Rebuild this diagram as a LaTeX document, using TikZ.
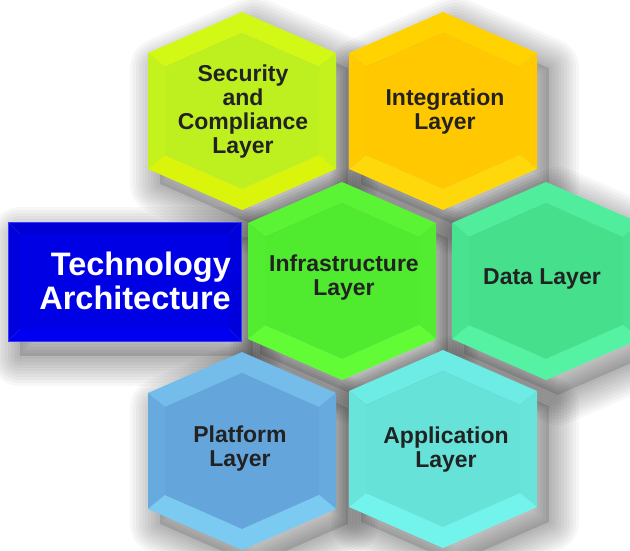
\documentclass[tikz,border=0pt]{standalone}
\usepackage{fontspec}
\setmainfont{Liberation Sans}
\definecolor{txt}{HTML}{222222}
\definecolor{secM}{HTML}{BEF020}\definecolor{secT}{HTML}{D2F816}\definecolor{secS}{HTML}{C4F21C}\definecolor{secB}{HTML}{DAF40C}
\definecolor{intM}{HTML}{FFC800}\definecolor{intT}{HTML}{FFD200}\definecolor{intS}{HTML}{FFCB00}\definecolor{intB}{HTML}{FFD80C}
\definecolor{infM}{HTML}{50EA2E}\definecolor{infT}{HTML}{5AF434}\definecolor{infS}{HTML}{52EC30}\definecolor{infB}{HTML}{62FC36}
\definecolor{datM}{HTML}{46E08C}\definecolor{datT}{HTML}{50EE9C}\definecolor{datS}{HTML}{48E290}\definecolor{datB}{HTML}{54F2A2}
\definecolor{plaM}{HTML}{64A6DC}\definecolor{plaT}{HTML}{74BCEA}\definecolor{plaS}{HTML}{66AADE}\definecolor{plaB}{HTML}{7ACAF2}
\definecolor{appM}{HTML}{66E2D8}\definecolor{appT}{HTML}{6CECE4}\definecolor{appS}{HTML}{68E4DA}\definecolor{appB}{HTML}{72F4EC}
\definecolor{bluM}{HTML}{0000E4}\definecolor{bluT}{HTML}{0000D4}\definecolor{bluS}{HTML}{0000DC}\definecolor{bluB}{HTML}{0000F0}\definecolor{bluE}{HTML}{3A3AFF}
\tikzset{
  shadowlayer/.style={draw=black, draw opacity=0.03, line join=round},
  shadowcore/.style={fill=black, fill opacity=0.12},
  lbl/.style={font=\fontsize{23}{24}\selectfont\bfseries,text=txt,align=center,inner sep=0pt},
  title/.style={font=\fontsize{32.5}{34}\selectfont\bfseries,text=white,align=right,inner sep=0pt}
}
\newcommand\hexpathat[2]{(#1,#2) ++(0,-99) -- ++(94,41) -- ++(0,116) -- ++(-94,41) -- ++(-94,-41) -- ++(0,-116) -- cycle}
\newcommand\hexshadow[2]{%
  \path[shadowcore, shift={(12,15)}] \hexpathat{#1}{#2};
  \foreach \w in {60,54,...,6}{%
    \path[shadowlayer, line width=\w pt, shift={(12,15)}] \hexpathat{#1}{#2};}}
\newcommand\hexcell[6]{%
  \begin{scope}[shift={(#1,#2)}]
    \fill[#4] (-94,-58) -- (0,-99) -- (94,-58) -- (77,-44) -- (0,-78) -- (-77,-44) -- cycle;
    \fill[#5] (94,-58) -- (94,58) -- (77,44) -- (77,-44) -- cycle;
    \fill[#5] (-94,-58) -- (-94,58) -- (-77,44) -- (-77,-44) -- cycle;
    \fill[#6] (-94,58) -- (0,99) -- (94,58) -- (77,44) -- (0,78) -- (-77,44) -- cycle;
    \fill[#3] (0,-78) -- (77,-44) -- (77,44) -- (0,78) -- (-77,44) -- (-77,-44) -- cycle;
  \end{scope}}
\begin{document}
\begin{tikzpicture}[x=1pt,y=-1pt]
\useasboundingbox (0,0) rectangle (630,550);
\clip (0,0) rectangle (630,550);
\fill[white] (0,0) rectangle (630,550);
% shadows
\path[shadowcore, shift={(12,15)}] (8,222) rectangle (241,341);
\foreach \w in {60,54,...,6}{%
  \path[shadowlayer, line width=\w pt, shift={(12,15)}] (8,222) rectangle (241,341);}
\hexshadow{242}{111}
\hexshadow{443}{111}
\hexshadow{342}{281}
\hexshadow{546}{281}
\hexshadow{242}{451}
\hexshadow{443}{449}
% blue title box
\fill[bluT] (8,222) -- (241,222) -- (229,234) -- (20,234) -- cycle;
\fill[bluS] (8,222) -- (20,234) -- (20,329) -- (8,341) -- cycle;
\fill[bluS] (241,222) -- (229,234) -- (229,329) -- (241,341) -- cycle;
\fill[bluB] (8,341) -- (20,329) -- (229,329) -- (241,341) -- cycle;
\fill[bluM] (20,234) rectangle (229,329);
\draw[bluE, line width=0.8pt] (8,222) rectangle (241,341);
% cells
\hexcell{242}{111}{secM}{secT}{secS}{secB}
\hexcell{443}{111}{intM}{intT}{intS}{intB}
\hexcell{342}{281}{infM}{infT}{infS}{infB}
\hexcell{546}{281}{datM}{datT}{datS}{datB}
\hexcell{242}{451}{plaM}{plaT}{plaS}{plaB}
\hexcell{443}{449}{appM}{appT}{appS}{appB}
% labels
\node[title, anchor=east] (ta) at (231,281) {Technology\\Architecture};
\node[lbl] (sec) at (243,112) {Security\\and\\Compliance\\Layer};
\node[lbl] (int) at (445,112) {Integration\\Layer};
\node[lbl] (inf) at (344,278) {Infrastructure\\Layer};
\node[lbl] (dat) at (542,279) {Data Layer};
\node[lbl] (pla) at (240,449) {Platform\\Layer};
\node[lbl] (app) at (446,450) {Application\\Layer};
\end{tikzpicture}
\end{document}
